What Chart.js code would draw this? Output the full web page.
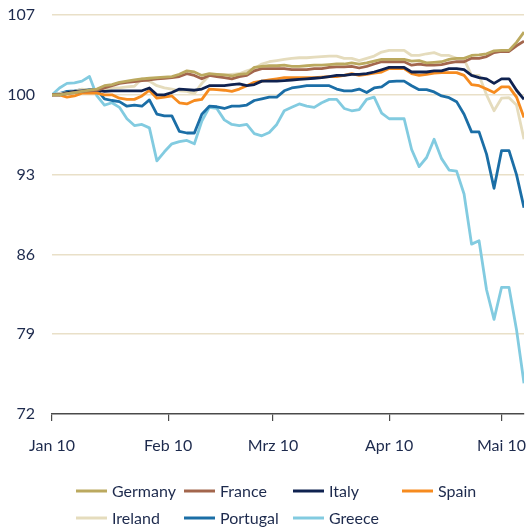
<!DOCTYPE html>
<html>
<head>
<meta charset="utf-8">
<script src="https://cdn.jsdelivr.net/npm/chart.js@4.4.1/dist/chart.umd.min.js"></script>
<style>
  html, body { margin: 0; padding: 0; background: #ffffff; }
  #wrap { width: 532px; height: 530px; }
</style>
</head>
<body>
<div id="wrap"><canvas id="c" width="532" height="530"></canvas></div>
<script>
// Days since 1 Jan 2010
const days = [0,2,4,6,8,10,12,14,16,18,20,22,24,26,28,30,32,34,36,38,40,42,44,46,48,50,52,54,56,58,60,62,64,66,68,70,72,74,76,78,80,82,84,86,88,90,92,94,96,98,100,102,104,106,108,110,112,114,116,118,120,122,124,126];

const monthDays = [0, 31, 59, 90, 120];
const monthLabels = ['Jan 10', 'Feb 10', 'Mrz 10', 'Apr 10', 'Mai 10'];
const yTicks = [72, 79, 86, 93, 100, 107];

const countries = ['Germany', 'France', 'Italy', 'Spain', 'Ireland', 'Portugal', 'Greece'];

const germany = [100.0,100.0,100.1,100.2,100.3,100.4,100.5,100.8,100.9,101.1,101.2,101.3,101.4,101.45,101.5,101.55,101.6,101.8,102.1,102.0,101.7,101.85,101.8,101.75,101.65,101.8,101.85,102.4,102.5,102.55,102.55,102.6,102.5,102.5,102.55,102.6,102.6,102.65,102.7,102.7,102.8,102.7,102.8,102.95,103.1,103.1,103.1,103.1,102.95,103.0,102.8,102.85,102.9,103.1,103.2,103.2,103.45,103.5,103.6,103.85,103.9,103.9,104.6,105.5];
const france = [100.0,100.0,100.1,100.2,100.3,100.35,100.4,100.6,100.8,101.0,101.1,101.15,101.25,101.3,101.4,101.45,101.5,101.6,101.85,101.7,101.4,101.7,101.6,101.5,101.4,101.6,101.7,102.1,102.3,102.3,102.3,102.3,102.2,102.2,102.2,102.3,102.3,102.4,102.45,102.45,102.5,102.35,102.5,102.7,102.9,102.9,102.9,102.9,102.6,102.7,102.6,102.6,102.65,102.8,102.9,102.9,103.2,103.2,103.35,103.7,103.8,103.8,104.3,104.7];
const italy = [100.0,100.0,100.2,100.3,100.35,100.4,100.4,100.3,100.35,100.35,100.35,100.35,100.35,100.6,100.0,100.0,100.2,100.5,100.45,100.4,100.5,100.8,100.8,100.8,100.9,100.95,100.8,100.9,101.2,101.2,101.2,101.25,101.3,101.35,101.4,101.45,101.5,101.6,101.7,101.7,101.8,101.8,101.85,102.0,102.2,102.4,102.4,102.4,102.0,102.0,102.0,102.1,102.1,102.3,102.3,102.2,101.7,101.5,101.4,101.0,101.4,101.4,100.4,99.6];
const spain = [100.0,100.0,99.8,99.9,100.15,100.15,100.15,100.0,100.0,99.7,99.6,99.6,99.9,100.4,99.7,99.8,99.9,99.3,99.2,99.5,99.6,100.5,100.45,100.4,100.3,100.5,100.8,101.1,101.2,101.3,101.4,101.5,101.5,101.5,101.5,101.5,101.55,101.6,101.6,101.7,101.85,101.7,101.8,101.9,102.0,102.3,102.3,102.3,101.85,101.7,101.8,101.9,101.95,101.95,101.95,101.7,100.9,100.8,100.5,100.2,100.7,100.7,99.8,98.0];
const ireland = [100.0,100.1,100.2,100.3,100.5,100.4,100.4,100.4,100.6,100.6,100.7,100.75,101.4,101.2,100.8,100.6,100.5,100.35,100.3,100.1,101.0,101.7,101.8,101.75,101.8,101.85,102.1,102.3,102.7,102.9,103.0,103.1,103.2,103.25,103.25,103.3,103.35,103.4,103.4,103.2,103.2,103.0,103.2,103.4,103.75,103.9,103.9,103.9,103.45,103.45,103.6,103.7,103.45,103.45,103.2,103.1,101.7,101.7,100.0,98.6,99.7,99.75,99.1,96.1];
const portugal = [100.0,100.1,100.3,100.35,100.45,100.45,100.45,99.65,99.5,99.4,99.0,99.1,99.0,99.55,98.3,98.15,98.15,96.8,96.65,96.65,98.3,99.0,98.95,98.8,99.0,99.0,99.1,99.5,99.65,99.8,99.8,100.35,100.6,100.7,100.8,100.8,100.8,100.8,100.5,100.35,100.35,100.5,100.2,100.6,100.7,101.15,101.2,101.2,100.8,100.45,100.45,100.25,99.9,99.75,99.4,98.3,96.75,96.75,94.8,91.8,95.1,95.1,93.0,90.1];
const greece = [100.0,100.6,101.0,101.05,101.2,101.6,99.9,99.1,99.3,98.9,97.9,97.3,97.4,97.1,94.2,95.0,95.7,95.9,96.0,95.7,97.7,98.9,98.8,97.8,97.4,97.3,97.4,96.6,96.4,96.7,97.4,98.6,98.9,99.2,99.0,98.9,99.3,99.6,99.6,98.8,98.6,98.7,99.6,99.8,98.4,97.9,97.9,97.9,95.2,93.7,94.5,96.1,94.4,93.4,93.3,91.3,86.9,87.2,82.9,80.3,83.1,83.1,79.4,74.7];

const seriesValues = [germany, france, italy, spain, ireland, portugal, greece];
const seriesColors = ['#bba95f', '#a3664d', '#0f2250', '#f68b1f', '#e5dcbd', '#1b6ea6', '#82cbe0'];

const textColor = '#1d2a4d';
const fontFamily = 'Lato, "Open Sans", sans-serif';

const gridLegend = {
  id: 'gridLegend',
  afterDraw(chart) {
    const c = chart.ctx;
    const colX = [76, 184, 293, 402];
    const rowY = [491, 518];
    chart.data.datasets.forEach((ds, i) => {
      const x = colX[i % 4];
      const y = rowY[Math.floor(i / 4)];
      c.save();
      c.strokeStyle = ds.borderColor;
      c.lineWidth = 3;
      c.beginPath();
      c.moveTo(x, y);
      c.lineTo(x + 31, y);
      c.stroke();
      c.fillStyle = textColor;
      c.font = '16px ' + fontFamily;
      c.textBaseline = 'middle';
      c.textAlign = 'left';
      c.fillText(ds.label, x + 36, y + 1);
      c.restore();
    });
  }
};

new Chart(document.getElementById('c'), {
  type: 'line',
  data: {
    datasets: countries.map((name, i) => ({
      label: name,
      data: days.map((d, j) => ({ x: d, y: seriesValues[i][j] })),
      borderColor: seriesColors[i],
      backgroundColor: seriesColors[i],
      borderWidth: 2.8,
      pointRadius: 0,
      tension: 0,
      fill: false,
      borderJoinStyle: 'round'
    }))
  },
  options: {
    responsive: false,
    animation: false,
    layout: { padding: { top: 15, right: 8, left: 0, bottom: 0 } },
    plugins: { legend: { display: false }, tooltip: { enabled: false } },
    scales: {
      x: {
        type: 'linear',
        min: 0,
        max: 126,
        afterBuildTicks: s => { s.ticks = monthDays.map(v => ({ value: v })); },
        afterFit: s => { s.height = 116; s.paddingLeft = 0; s.paddingRight = 0; },
        ticks: {
          autoSkip: false,
          maxRotation: 0,
          padding: 15,
          color: textColor,
          font: { family: fontFamily, size: 16 },
          callback: (v, i) => monthLabels[i]
        },
        grid: { drawOnChartArea: false, drawTicks: true, tickLength: 7, color: '#4a4a4a', lineWidth: 1.2 },
        border: { display: true, color: '#4a4a4a', width: 1.5 }
      },
      y: {
        min: 72,
        max: 107,
        afterBuildTicks: s => { s.ticks = yTicks.map(v => ({ value: v })); },
        afterFit: s => { s.width = 52; s.paddingTop = 0; s.paddingBottom = 0; },
        ticks: {
          padding: 17,
          color: textColor,
          font: { family: fontFamily, size: 16 }
        },
        grid: {
          color: c => (c.tick && c.tick.value === 72) ? 'rgba(0,0,0,0)' : '#e9e0c8',
          drawTicks: false,
          lineWidth: 1.5
        },
        border: { display: false }
      }
    }
  },
  plugins: [gridLegend]
});
</script>
</body>
</html>
